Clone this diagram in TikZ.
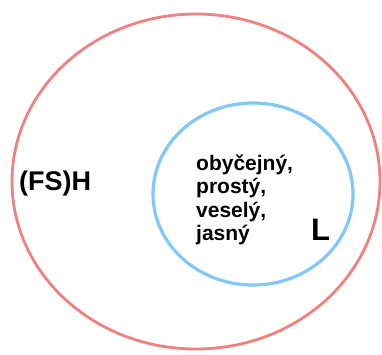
\documentclass[tikz,border=0pt]{standalone}
\usepackage{fontspec}
\setmainfont{Liberation Sans}
\definecolor{setH}{RGB}{243,128,128}
\definecolor{setL}{RGB}{128,200,250}
\begin{document}
\begin{tikzpicture}[x=1pt,y=-1pt]
\tikzset{label/.style={inner sep=0pt,font=\bfseries}}
\useasboundingbox (0,0) rectangle (382,354);
\draw [line width=2.8pt,color=setH] (196,181.5) ellipse [x radius=184,y radius=167.5];
\draw [line width=3.2pt,color=setL] (253,194) ellipse [x radius=100,y radius=91];
\node [label,anchor=base west,font=\bfseries\fontsize{27}{27}\selectfont] (H) at (19,190) {(FS)H};
\node [label,anchor=base west,align=left,font=\bfseries\fontsize{21}{23.5}\selectfont] (words) at (196,240.5) {obyčejný,\\prostý,\\veselý,\\jasný};
\node [label,anchor=base west,font=\bfseries\fontsize{31}{31}\selectfont] (L) at (311,240) {L};
\end{tikzpicture}
\end{document}
